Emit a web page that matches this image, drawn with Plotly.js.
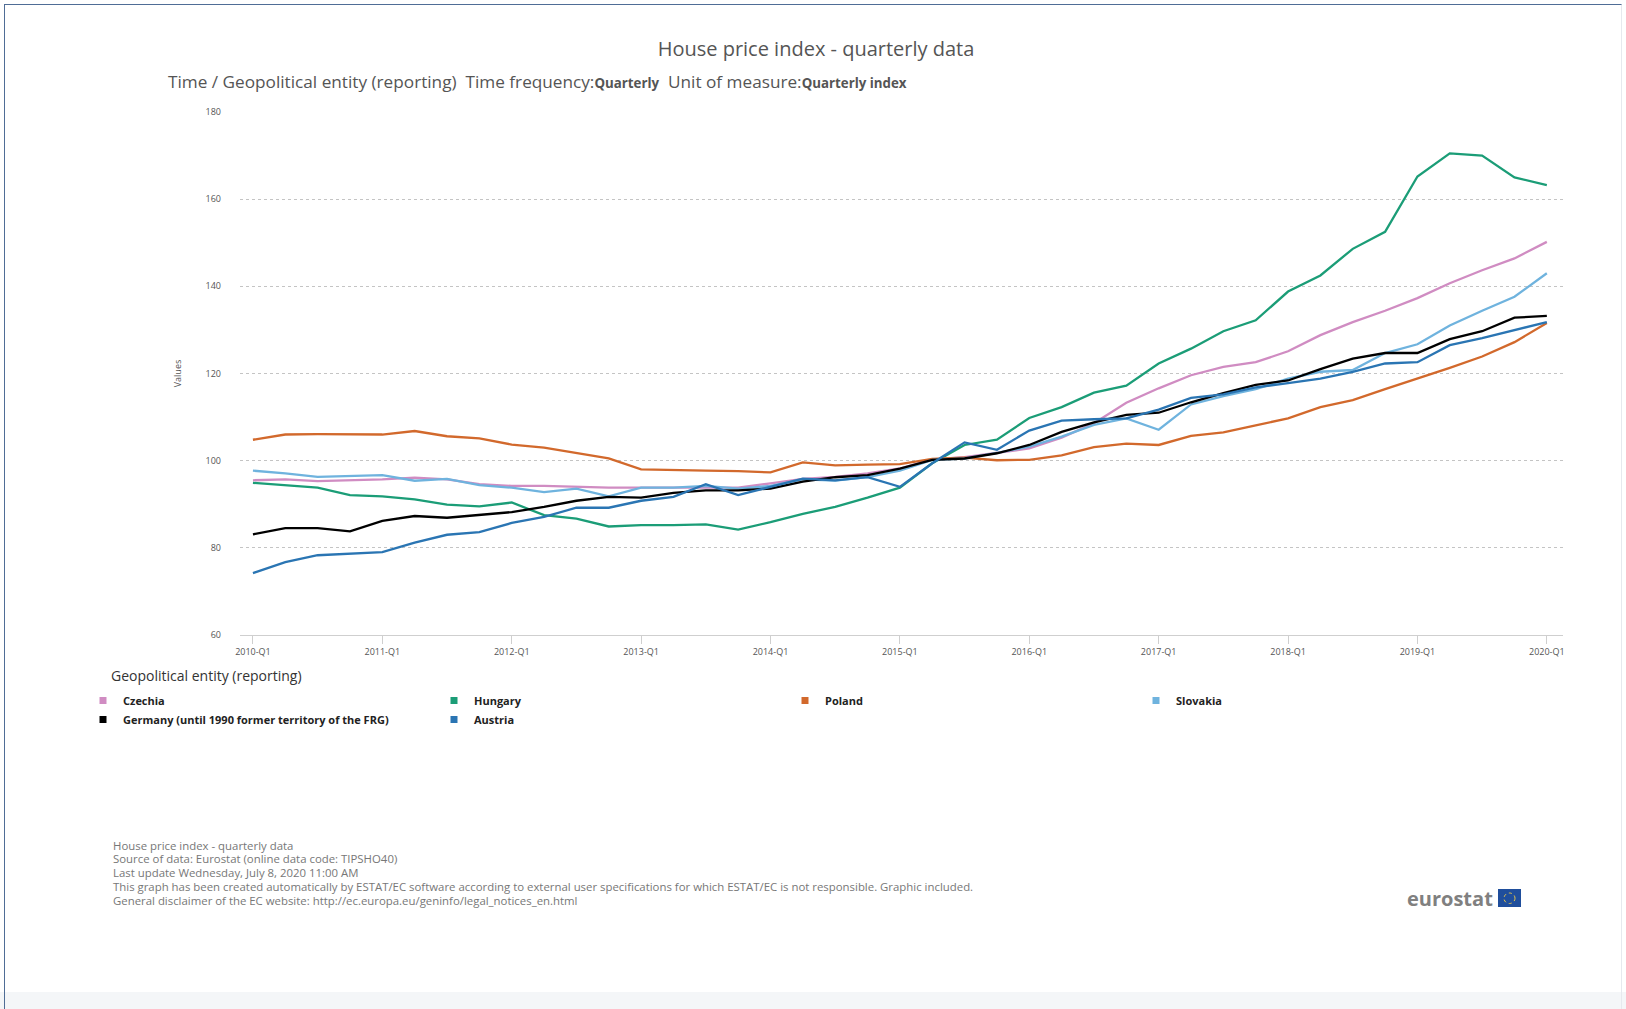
<!DOCTYPE html>
<html>
<head>
<meta charset="utf-8">
<script src="https://cdn.plot.ly/plotly-3.0.1.min.js"></script>
<style>
  html, body { margin: 0; padding: 0; background: #ffffff; }
  #wrap { position: relative; width: 1626px; height: 1009px; overflow: hidden; }
  #chart { position: absolute; left: 0; top: 0; width: 1626px; height: 1009px; }
  #frame { position: absolute; left: 4px; top: 4px; right: 4px; bottom: 0; border-left: 1.5px solid #4f6d96; border-top: 1.5px solid #4f6d96; border-right: 1px solid #e6e9ee; pointer-events: none; }
  #band { position: absolute; left: 0; right: 0; top: 992px; bottom: 0; background: #f4f6f8; pointer-events: none; }
</style>
</head>
<body>
<div id="wrap">
  <div id="chart"></div>
  <div id="band"></div>
  <div id="frame"></div>
</div>
<script>
// ---------- data ----------
const quarters = [
  "2010-Q1","2010-Q2","2010-Q3","2010-Q4",
  "2011-Q1","2011-Q2","2011-Q3","2011-Q4",
  "2012-Q1","2012-Q2","2012-Q3","2012-Q4",
  "2013-Q1","2013-Q2","2013-Q3","2013-Q4",
  "2014-Q1","2014-Q2","2014-Q3","2014-Q4",
  "2015-Q1","2015-Q2","2015-Q3","2015-Q4",
  "2016-Q1","2016-Q2","2016-Q3","2016-Q4",
  "2017-Q1","2017-Q2","2017-Q3","2017-Q4",
  "2018-Q1","2018-Q2","2018-Q3","2018-Q4",
  "2019-Q1","2019-Q2","2019-Q3","2019-Q4",
  "2020-Q1"
];
const tickLabels = ["2010-Q1","2011-Q1","2012-Q1","2013-Q1","2014-Q1","2015-Q1","2016-Q1","2017-Q1","2018-Q1","2019-Q1","2020-Q1"];
const yTicks = [60, 80, 100, 120, 140, 160, 180];

const czechia = [95.5,95.7,95.3,95.5,95.7,96.1,95.7,94.6,94.2,94.2,94.0,93.8,93.8,93.8,93.8,93.8,94.8,95.8,96.3,97.1,98.2,100.3,100.8,101.8,102.8,105.3,108.6,113.3,116.6,119.6,121.5,122.6,125.1,128.8,131.8,134.4,137.3,140.7,143.7,146.4,150.2];
const hungary = [94.9,94.4,93.8,92.1,91.8,91.1,89.9,89.5,90.4,87.5,86.7,84.9,85.2,85.2,85.4,84.2,85.9,87.8,89.4,91.5,93.8,99.4,103.6,104.8,109.8,112.3,115.6,117.2,122.3,125.7,129.7,132.2,138.8,142.5,148.6,152.5,165.2,170.5,170.0,165.0,163.2];
const poland = [104.8,106.0,106.1,106.0,106.0,106.8,105.6,105.1,103.7,103.0,101.7,100.5,98.0,97.8,97.7,97.6,97.3,99.6,98.9,99.1,99.2,100.4,100.7,100.1,100.2,101.2,103.1,103.9,103.6,105.7,106.5,108.1,109.7,112.3,113.9,116.4,118.8,121.3,123.9,127.2,131.6];
const slovakia = [97.7,97.1,96.3,96.5,96.7,95.4,95.8,94.4,93.8,92.8,93.6,91.8,93.8,93.8,94.2,93.6,94.2,95.7,95.4,96.2,97.7,100.2,100.5,101.8,103.2,105.5,108.2,109.7,107.1,112.9,114.8,116.4,118.8,120.4,120.8,124.7,126.7,131.0,134.4,137.6,143.0];
const germany = [83.1,84.5,84.5,83.8,86.2,87.3,86.9,87.5,88.2,89.4,90.8,91.7,91.5,92.6,93.2,93.2,93.6,95.2,96.2,96.7,98.2,100.2,100.5,101.7,103.6,106.6,108.8,110.5,111.0,113.4,115.5,117.4,118.4,121.0,123.4,124.7,124.7,127.9,129.7,132.8,133.2];
const austria = [74.2,76.7,78.3,78.6,79.0,81.2,83.0,83.6,85.7,87.1,89.2,89.2,90.8,91.7,94.6,92.1,94.0,95.9,95.5,96.2,94.0,99.4,104.2,102.5,106.9,109.2,109.5,109.7,111.7,114.4,115.2,116.8,117.8,118.8,120.4,122.3,122.6,126.5,128.1,130.0,131.8];

const seriesNames = ["Czechia", "Hungary", "Poland", "Slovakia", "Germany (until 1990 former territory of the FRG)", "Austria"];
const seriesValues = [czechia, hungary, poland, slovakia, germany, austria];
const seriesColors = ["#d08cc2", "#1b9d77", "#d2692c", "#6fb3de", "#000000", "#2a75b3"];

const titleText = "House price index - quarterly data";
const subtitleText = "Time / Geopolitical entity (reporting)&nbsp; Time frequency:<b><span style='font-size:13.3px'>Quarterly</span></b>&nbsp; Unit of measure:<b><span style='font-size:13.3px'>Quarterly index</span></b>";
const yAxisTitle = "Values";
const legendTitle = "Geopolitical entity (reporting)";
const footerLines = [
  "House price index - quarterly data",
  "Source of data: Eurostat (online data code: TIPSHO40)",
  "Last update Wednesday, July 8, 2020 11:00 AM",
  "This graph has been created automatically by ESTAT/EC software according to external user specifications for which ESTAT/EC is not responsible. Graphic included.",
  "General disclaimer of the EC website: http://ec.europa.eu/geninfo/legal_notices_en.html"
];

// ---------- layout helpers ----------
const W = 1626, H = 1009;
const M = { l: 240, r: 63, t: 112, b: 374 };
const PW = W - M.l - M.r, PH = H - M.t - M.b;
const px = x => (x - M.l) / PW;
const py = y => (H - M.b - y) / PH;
const FONT = "'Open Sans', 'Noto Sans', sans-serif";

// ---------- traces ----------
const traces = [];
seriesNames.forEach((name, k) => {
  traces.push({
    type: "scatter", mode: "lines", name: name,
    x: quarters, y: seriesValues[k],
    line: { color: seriesColors[k], width: 2.3 },
    showlegend: false,
    hovertemplate: "%{x}: %{y}<extra>" + name + "</extra>"
  });
});
seriesNames.forEach((name, k) => {
  traces.push({
    type: "scatter", mode: "markers", name: name,
    x: [null], y: [null],
    marker: { symbol: "square", size: 7, color: seriesColors[k] },
    showlegend: true, hoverinfo: "skip"
  });
});

// ---------- annotations ----------
const annotations = [
  {
    xref: "paper", yref: "paper", x: px(166), y: py(81), xanchor: "left", yanchor: "middle",
    text: subtitleText, showarrow: false, font: { family: FONT, size: 17.2, color: "#555" }
  },
  {
    xref: "paper", yref: "paper", x: px(109), y: py(675), xanchor: "left", yanchor: "middle",
    text: legendTitle, showarrow: false, font: { family: FONT, size: 14, color: "#333" }
  }
];
footerLines.forEach((t, i) => {
  annotations.push({
    xref: "paper", yref: "paper", x: px(111), y: py(845 + i * 13.8), xanchor: "left", yanchor: "middle",
    text: t, showarrow: false, font: { family: FONT, size: 11.4, color: "#777" }
  });
});
annotations.push({
  xref: "paper", yref: "paper", x: px(1495), y: py(898), xanchor: "right", yanchor: "middle",
  text: "<b>eurostat</b>", showarrow: false, font: { family: "'Open Sans', sans-serif", size: 20, color: "#808080" }
});

const shapes = [
  { type: "rect", xref: "paper", yref: "paper", x0: px(1498), x1: px(1521), y0: py(889), y1: py(907),
    fillcolor: "#1f4e9c", line: { width: 0 } },
  { type: "circle", xref: "paper", yref: "paper", x0: px(1504), x1: px(1515), y0: py(893), y1: py(903.5),
    line: { color: "#e8c84a", width: 1, dash: "dot" } }
];

const layout = {
  width: W, height: H,
  margin: M,
  paper_bgcolor: "rgba(0,0,0,0)", plot_bgcolor: "rgba(0,0,0,0)",
  font: { family: FONT, color: "#444" },
  title: { text: titleText, x: 816 / W, xref: "container", xanchor: "center", y: 1 - 49 / H, yanchor: "middle",
           font: { family: FONT, size: 20, color: "#555" } },
  xaxis: {
    type: "category", range: [-0.4, 40.5],
    tickmode: "array", tickvals: tickLabels, ticktext: tickLabels,
    ticks: "outside", ticklen: 8, tickcolor: "#cfcfcf", tickwidth: 1,
    showline: true, linecolor: "#cfcfcf", linewidth: 1,
    showgrid: false, zeroline: false,
    tickfont: { family: FONT, size: 9, color: "#555" }, tickangle: 0
  },
  yaxis: {
    range: [60, 180], tickmode: "array", tickvals: yTicks, ticktext: yTicks.map(String),
    showgrid: true, gridcolor: "#c4c4c4", griddash: "dot", gridwidth: 1,
    showline: false, zeroline: false, ticks: "", ticklabelstandoff: 18,
    tickfont: { family: FONT, size: 9, color: "#555" },
    title: { text: yAxisTitle, standoff: 22, font: { family: FONT, size: 9, color: "#555" } }
  },
  showlegend: true,
  legend: {
    orientation: "h", xref: "paper", yref: "paper",
    x: px(83), xanchor: "left", y: py(686), yanchor: "top",
    entrywidth: 306, entrywidthmode: "pixels", itemwidth: 30, tracegroupgap: 0,
    font: { family: FONT, size: 11, color: "#222", weight: "bold" },
    bgcolor: "rgba(0,0,0,0)", itemclick: false, itemdoubleclick: false
  },
  annotations: annotations,
  shapes: shapes
};

Plotly.newPlot("chart", traces, layout, { displayModeBar: false });
</script>
</body>
</html>
